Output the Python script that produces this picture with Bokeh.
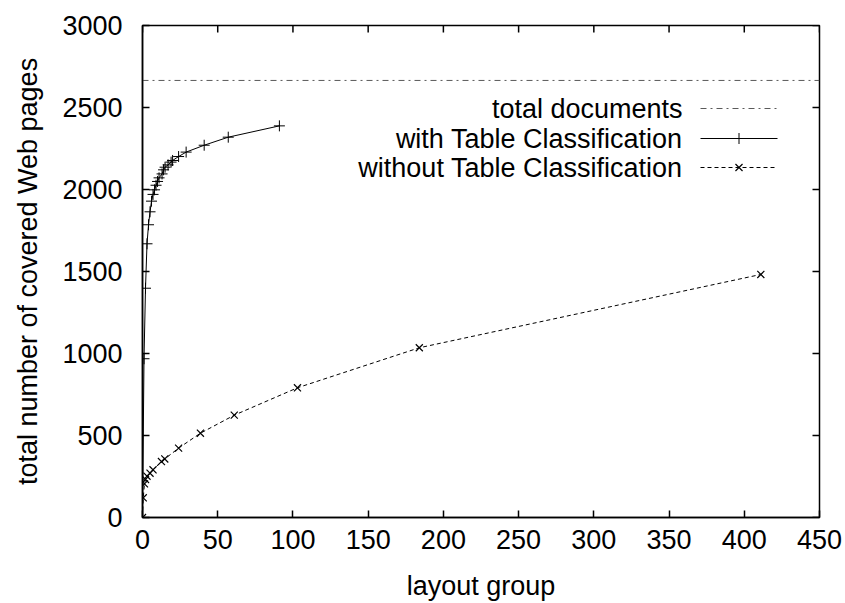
import math
from bokeh.plotting import figure
from bokeh.models import Range1d, FixedTicker, Label
from bokeh.embed import file_html
from bokeh.resources import INLINE

# ---- data ----
total_documents = 2665

with_tc_x = [0, 1, 2, 3, 4, 5, 6, 7, 8, 9, 10, 11, 13, 14, 15, 17, 19, 20, 24, 29, 41, 57, 91]
with_tc_y = [0, 968, 1398, 1669, 1785, 1864, 1929, 1970, 1998, 2026, 2049, 2071, 2095, 2120,
             2136, 2150, 2167, 2177, 2201, 2228, 2270, 2319, 2388]

without_tc_x = [0, 0.5, 1.3, 2, 3, 5, 7, 12.6, 14.8, 24, 38.5, 61, 103, 184, 411]
without_tc_y = [0, 120, 205, 232, 252, 270, 291, 341, 357, 423, 514, 624, 791, 1035, 1482]

x_ticks = [0, 50, 100, 150, 200, 250, 300, 350, 400, 450]
y_ticks = [0, 500, 1000, 1500, 2000, 2500, 3000]

series_labels = ["total documents", "with Table Classification", "without Table Classification"]
x_label = "layout group"
y_label = "total number of covered Web pages"

X_MIN, X_MAX = 0, 450
Y_MIN, Y_MAX = 0, 3000

# ---- layout ----
W, H = 845, 603
LEFT, RIGHT, TOP, BOTTOM = 142, 26, 25, 86
FRAME_W = W - LEFT - RIGHT
FRAME_H = H - TOP - BOTTOM
FONT = "Liberation Sans"
FS = "27px"


def px_x(px):
    """frame pixel offset from left -> data x"""
    return X_MIN + px * (X_MAX - X_MIN) / FRAME_W


def px_y(px):
    """frame pixel offset from bottom -> data y"""
    return Y_MIN + px * (Y_MAX - Y_MIN) / FRAME_H


p = figure(width=W, height=H, output_backend="svg", toolbar_location=None,
           x_range=Range1d(X_MIN, X_MAX), y_range=Range1d(Y_MIN, Y_MAX),
           min_border_left=LEFT, min_border_right=RIGHT, min_border_top=TOP,
           min_border_bottom=BOTTOM, x_axis_label=x_label, y_axis_label=y_label)

p.background_fill_color = "white"
p.border_fill_color = "white"
p.outline_line_color = "black"
p.outline_line_width = 1.5
p.grid.visible = False

xa = p.xaxis[0]
ya = p.yaxis[0]
for ax, ticks in ((xa, x_ticks), (ya, y_ticks)):
    ax.ticker = FixedTicker(ticks=ticks)
    ax.major_tick_in = 7
    ax.major_tick_out = 0
    ax.minor_tick_line_color = None
    ax.major_tick_line_color = "black"
    ax.major_tick_line_width = 1.5
    ax.axis_line_color = "black"
    ax.axis_line_width = 1.5
    ax.major_label_text_font = FONT
    ax.major_label_text_font_size = FS
    ax.major_label_text_color = "black"
    ax.axis_label_text_font = FONT
    ax.axis_label_text_font_size = FS
    ax.axis_label_text_font_style = "normal"
    ax.axis_label_text_color = "black"
xa.major_label_standoff = 12
ya.major_label_standoff = 20
xa.axis_label_standoff = 19
ya.axis_label_standoff = 16

# mirrored inward ticks on the top and right frame edges (half of each mark is clipped)
TICK = 14
p.scatter(x_ticks, [Y_MAX] * len(x_ticks), marker="dash", size=TICK, angle=math.pi / 2,
          line_color="black", line_width=1.5)
p.scatter([X_MAX] * len(y_ticks), y_ticks, marker="dash", size=TICK,
          line_color="black", line_width=1.5)

# ---- series ----
TOTAL_COLOR = "#5a5a5a"
TOTAL_DASH = "6 4 2 4"
p.line([X_MIN, X_MAX], [total_documents, total_documents],
       line_color=TOTAL_COLOR, line_width=1, line_dash=TOTAL_DASH)

p.line(with_tc_x, with_tc_y, line_color="black", line_width=1)
p.scatter(with_tc_x, with_tc_y, marker="cross", size=11, line_color="black", line_width=1)

p.line(without_tc_x, without_tc_y, line_color="black", line_width=1, line_dash="4 3")
p.scatter(without_tc_x, without_tc_y, marker="x", size=10, line_color="black", line_width=1.2)

# ---- key (gnuplot style: text right-aligned, sample to its right) ----
key_rows = [px_y(409), px_y(379), px_y(350)]
key_text_x = px_x(540)
key_x0, key_x1 = px_x(558), px_x(635)
key_xm = (key_x0 + key_x1) / 2

for txt, ky in zip(series_labels, key_rows):
    p.add_layout(Label(x=key_text_x, y=ky, text=txt, text_align="right",
                       text_baseline="middle", text_font=FONT, text_font_size=FS,
                       text_color="black"))

p.line([key_x0, key_x1], [key_rows[0]] * 2, line_color=TOTAL_COLOR, line_width=1,
       line_dash=TOTAL_DASH)
p.line([key_x0, key_x1], [key_rows[1]] * 2, line_color="black", line_width=1)
p.scatter([key_xm], [key_rows[1]], marker="cross", size=11, line_color="black", line_width=1)
p.line([key_x0, key_x1], [key_rows[2]] * 2, line_color="black", line_width=1, line_dash="4 3")
p.scatter([key_xm], [key_rows[2]], marker="x", size=10, line_color="black", line_width=1.2)

open("out.html", "w").write(file_html(p, INLINE))
